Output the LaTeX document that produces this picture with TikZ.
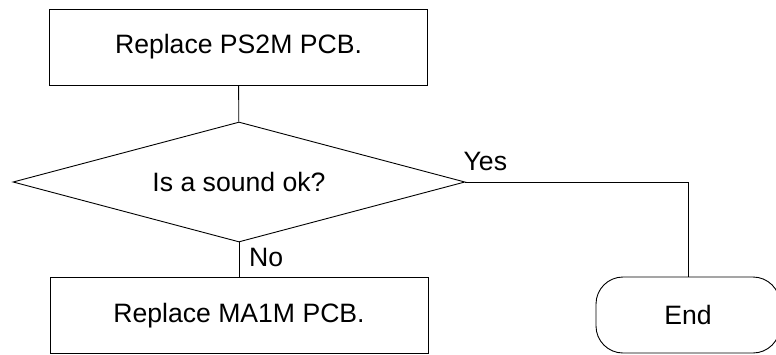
\documentclass[tikz,border=0pt]{standalone}
\usepackage{fontspec}
\setmainfont{Liberation Sans}
\usetikzlibrary{%
    positioning,
    shapes.geometric
}

\tikzset{
    flow/.style={draw, line width=.9pt, inner sep=0pt,
                 font=\fontsize{26.6}{32}\selectfont},
    procbox/.style={flow, rectangle,
                    minimum width=378pt, minimum height=76pt},
    decision/.style={flow, diamond, shape aspect=3.77,
                     minimum width=452pt, minimum height=120pt},
    terminal/.style={flow, rectangle, rounded corners=27pt,
                     minimum width=184pt, minimum height=76pt},
    answer/.style={anchor=base west, inner sep=0pt,
                   font=\fontsize{26.6}{32}\selectfont},
    link/.style={line width=.9pt}
}

\begin{document}
\begin{tikzpicture}[x=1pt, y=-1pt]
    \useasboundingbox (0,0) rectangle (776,354);

    \node (ps2m)  [procbox]  at (238.5,47)  {Replace PS2M PCB.};
    \node (sound) [decision] at (239,182)   {Is a sound ok?};
    \node (ma1m)  [procbox]  at (239,315.5) {Replace MA1M PCB.};
    \node (done)  [terminal] at (688,315)   {End};

    \draw[link] (ps2m)  -- (sound);
    \draw[link] (sound) -- (ma1m);
    \draw[link] (sound.east) -| (done.north);

    \node (yes) [answer] at ([xshift=-2pt,yshift=12pt]sound.east) {Yes};
    \node (no)  [answer] at ([xshift=10pt,yshift=11pt]ma1m.north) {No};
\end{tikzpicture}
\end{document}
